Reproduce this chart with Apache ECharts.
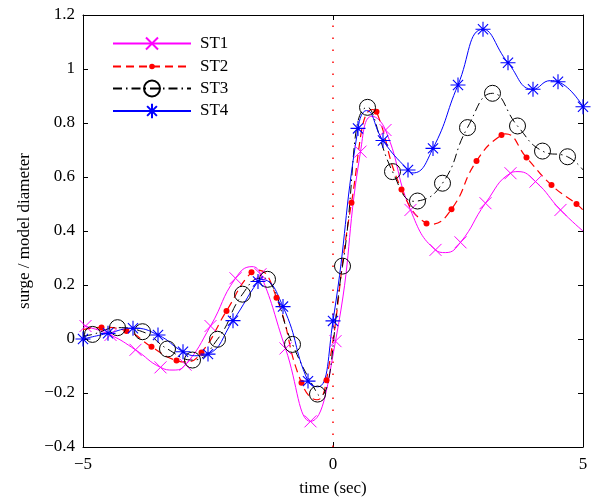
<!DOCTYPE html>
<html><head><meta charset="utf-8">
<script src="https://cdn.jsdelivr.net/npm/echarts@6/dist/echarts.min.js"></script>
<style>html,body{margin:0;padding:0;background:#fff}#c{width:595px;height:502px}</style>
</head><body><div id="c"></div>
<script>
const seriesNames = ['ST1', 'ST2', 'ST3', 'ST4'];
const xTicks = [-5, 0, 5];
const yTicks = [-0.4, -0.2, 0, 0.2, 0.4, 0.6, 0.8, 1, 1.2];
const xLabel = 'time (sec)';
const yLabel = 'surge / model diameter';

// marker points
const st1Marks = [[-4.95,0.048],[-4.45,0.015],[-3.95,-0.040],[-3.45,-0.105],[-2.95,-0.095],[-2.45,0.048],[-1.95,0.225],[-1.45,0.240],[-0.95,-0.035],[-0.45,-0.305],[0.05,-0.008],[0.55,0.694],[1.05,0.774],[1.55,0.478],[2.05,0.330],[2.55,0.358],[3.05,0.503],[3.55,0.614],[4.05,0.583],[4.55,0.478]];
// extra curve points without markers
const st1Curve = [[-5,0.05],[-3.2,-0.115],[-1.62,0.268],[0.78,0.825],[2.25,0.32],[3.7,0.62],[5,0.40]];

const st2Marks = [[-4.63,0.043],[-4.13,0.030],[-3.63,-0.029],[-3.13,-0.080],[-2.63,-0.050],[-2.13,0.104],[-1.63,0.247],[-1.13,0.153],[-0.63,-0.162],[-0.13,-0.153],[0.37,0.505],[0.87,0.842],[1.37,0.554],[1.87,0.428],[2.37,0.481],[2.87,0.659],[3.37,0.756],[3.87,0.672],[4.37,0.570],[4.87,0.500]];
const st2Curve = [[-5,0.035],[-2.95,-0.085],[-1.5,0.255],[-0.32,-0.225],[0.78,0.85],[1.95,0.425],[3.45,0.76],[5,0.478]];

const st3Marks = [[-4.81,0.017],[-4.31,0.042],[-3.81,0.027],[-3.31,-0.037],[-2.81,-0.078],[-2.31,-0.001],[-1.81,0.166],[-1.31,0.221],[-0.81,-0.020],[-0.31,-0.204],[0.19,0.270],[0.69,0.858],[1.19,0.620],[1.69,0.511],[2.19,0.577],[2.69,0.783],[3.19,0.910],[3.69,0.789],[4.19,0.696],[4.69,0.675]];
const st3Curve = [[-5,0.01],[-1.42,0.226],[-0.25,-0.21],[1.62,0.51],[5,0.626]];

const st4Marks = [[-5,0.0],[-4.5,0.021],[-4,0.040],[-3.5,0.015],[-3,-0.047],[-2.5,-0.056],[-2,0.068],[-1.5,0.213],[-1,0.120],[-0.5,-0.156],[0,0.067],[0.5,0.78],[1,0.735],[1.5,0.626],[2,0.706],[2.5,0.941],[3,1.147],[3.5,1.023],[4,0.925],[4.5,0.953],[5,0.860]];
const st4Curve = [[-2.72,-0.062],[-1.42,0.22],[-0.3,-0.177],[0.67,0.846],[1.6,0.615],[4.35,0.957]];

const zeroLine = [[0,-0.4],[0,1.2]];

function build(marks, curve) {
  const pts = marks.map(p => ({ value: p, mark: true })).concat(curve.map(p => ({ value: p, mark: false })));
  pts.sort((a, b) => a.value[0] - b.value[0]);
  return pts.map(p => p.mark ? { value: p.value } : { value: p.value, symbol: 'none' });
}

const FONT = 'Liberation Serif, Times New Roman, serif';
const minus = s => String(s).replace('-', '\u2212');
const fmtY = v => minus(Math.round(v * 10) / 10);

const symX = 'path://M0,0L10,10M10,0L0,10';
const symStar = 'path://M5,0L5,10M0,5L10,5M1.6,1.6L8.4,8.4M8.4,1.6L1.6,8.4';

const chart = echarts.init(document.getElementById('c'), null, { renderer: 'canvas' });

const legendRows = [43.5, 66.5, 89.5, 111.5];
const legendIH = [15, 7, 20, 18];
const legends = seriesNames.map((n, i) => ({
  data: [n], orient: 'vertical', left: 112, padding: 0,
  top: legendRows[i] - Math.max(legendIH[i], 17) / 2,
  itemWidth: 78, itemHeight: legendIH[i],
  selectedMode: false,
  textStyle: { fontFamily: FONT, fontSize: 17, color: '#000', padding: [0, 0, 0, 4] }
}));

const axLine = { show: true, onZero: false, lineStyle: { color: '#000', width: 1 } };
const tick = { show: true, inside: true, length: 5, lineStyle: { color: '#000' } };

chart.setOption({
  animation: false,
  backgroundColor: '#fff',
  grid: { left: 83, right: 12, top: 15, bottom: 55 },
  legend: legends,
  xAxis: [{
    type: 'value', min: xTicks[0], max: xTicks[xTicks.length - 1], interval: 5,
    name: xLabel, nameLocation: 'middle', nameGap: 33,
    nameTextStyle: { fontFamily: FONT, fontSize: 17, color: '#000' },
    axisLine: axLine, splitLine: { show: false }, axisTick: tick,
    axisLabel: { fontFamily: FONT, fontSize: 17, color: '#000', margin: 9, formatter: v => minus(v) }
  }, {
    type: 'value', position: 'top', min: -5, max: 5, interval: 5,
    axisLine: axLine, splitLine: { show: false }, axisLabel: { show: false }, axisTick: tick
  }],
  yAxis: [{
    type: 'value', min: yTicks[0], max: yTicks[yTicks.length - 1], interval: 0.2,
    name: yLabel, nameLocation: 'middle', nameGap: 43,
    nameTextStyle: { fontFamily: FONT, fontSize: 17, color: '#000' },
    axisLine: axLine, splitLine: { show: false }, axisTick: tick,
    axisLabel: { fontFamily: FONT, fontSize: 17, color: '#000', margin: 8, formatter: fmtY }
  }, {
    type: 'value', position: 'right', min: -0.4, max: 1.2, interval: 0.2,
    axisLine: axLine, splitLine: { show: false }, axisLabel: { show: false }, axisTick: tick
  }],
  series: [
    {
      name: 'zero', type: 'line', data: zeroLine, symbol: 'none', silent: true,
      lineStyle: { color: '#ff0000', width: 1.5, type: [1.5, 10.5] }
    },
    {
      name: 'ST1', type: 'line', smooth: 0.5, clip: false,
      data: build(st1Marks, st1Curve), symbol: symX, symbolSize: 12,
      lineStyle: { color: '#ff00ff', width: 1 },
      itemStyle: { color: '#ff00ff', borderColor: '#ff00ff', borderWidth: 1 }
    },
    {
      name: 'ST2', type: 'line', smooth: 0.5, clip: false,
      data: build(st2Marks, st2Curve), symbol: 'circle', symbolSize: 6,
      lineStyle: { color: '#ff0000', width: 1.2, type: [8, 5] },
      itemStyle: { color: '#ff0000', borderColor: '#ff0000', borderWidth: 0 }
    },
    {
      name: 'ST3', type: 'line', smooth: 0.5, clip: false,
      data: build(st3Marks, st3Curve), symbol: 'circle', symbolSize: 16,
      lineStyle: { color: '#000000', width: 1, type: [9, 4, 1.5, 4] },
      itemStyle: { color: 'rgba(0,0,0,0)', borderColor: '#000000', borderWidth: 1 }
    },
    {
      name: 'ST4', type: 'line', smooth: 0.5, clip: false,
      data: build(st4Marks, st4Curve), symbol: symStar, symbolSize: 15,
      lineStyle: { color: '#0000ff', width: 1 },
      itemStyle: { color: '#0000ff', borderColor: '#0000ff', borderWidth: 1.1 }
    }
  ]
});
</script></body></html>
